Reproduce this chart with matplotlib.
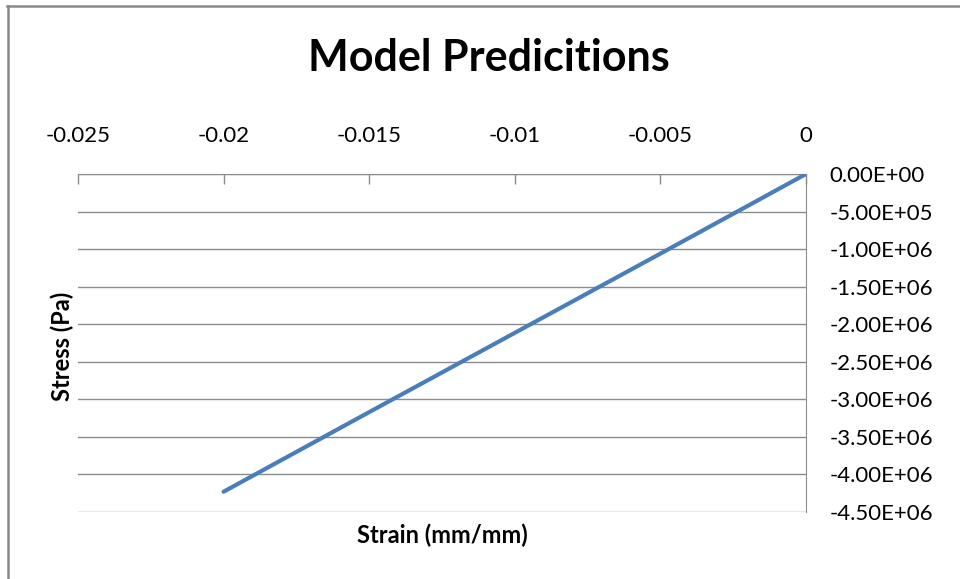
import numpy as np
import matplotlib.pyplot as plt
from matplotlib.lines import Line2D

# data
strain = [-0.02, -0.015, -0.01, -0.005, 0.0]
stress = [-4.23e6, -3.17e6, -2.115e6, -1.06e6, 0.0]

x_ticks = [-0.025, -0.02, -0.015, -0.01, -0.005, 0.0]
x_tick_labels = ["-0.025", "-0.02", "-0.015", "-0.01", "-0.005", "0"]
y_ticks = [0, -5e5, -1e6, -1.5e6, -2e6, -2.5e6, -3e6, -3.5e6, -4e6, -4.5e6]
y_tick_labels = ["0.00E+00", "-5.00E+05", "-1.00E+06", "-1.50E+06", "-2.00E+06",
                 "-2.50E+06", "-3.00E+06", "-3.50E+06", "-4.00E+06", "-4.50E+06"]

plt.rcParams['font.family'] = ['Lato', 'DejaVu Sans']

fig = plt.figure(figsize=(9.6, 5.79), dpi=100)
ax = fig.add_axes([78 / 960, 1 - 512 / 579, (806 - 78) / 960, (512 - 174) / 579])

grid_col = "#8c8c8c"
ax.plot(strain, stress, color="#4a7ebb", linewidth=3.0, solid_capstyle="round", zorder=3)

ax.set_xlim(-0.025, 0)
ax.set_ylim(-4.5e6, 0)

ax.set_xticks(x_ticks)
ax.set_xticklabels(x_tick_labels)
ax.set_yticks(y_ticks)
ax.set_yticklabels(y_tick_labels)

ax.xaxis.tick_top()
ax.yaxis.tick_right()
ax.tick_params(axis="x", direction="in", length=7, width=1, color=grid_col,
               labelsize=16, pad=20, labelcolor="black")
ax.tick_params(axis="y", length=0, labelsize=16, pad=17, labelcolor="black")
for lbl in ax.get_yticklabels():
    lbl.set_horizontalalignment("left")

ax.grid(axis="y", color=grid_col, linewidth=1)
for side in ["left", "bottom"]:
    ax.spines[side].set_visible(False)
ax.spines["top"].set_color(grid_col)
ax.spines["right"].set_color(grid_col)

fig.text(489 / 960, 1 - 58 / 579, "Model Predicitions", ha="center", va="center",
         fontsize=31, fontweight="bold")
fig.text(442 / 960, 1 - 535 / 579, "Strain (mm/mm)", ha="center", va="center",
         fontsize=17, fontweight="bold")
fig.text(62 / 960, 1 - 346 / 579, "Stress (Pa)", ha="center", va="center",
         fontsize=17, fontweight="bold", rotation=90)

# outer chart border (top and left edges visible)
fig.add_artist(Line2D([7 / 960, 1], [1 - 6 / 579, 1 - 6 / 579], color="#8a8a8a",
                      linewidth=1.8, transform=fig.transFigure))
fig.add_artist(Line2D([8 / 960, 8 / 960], [0, 1 - 6 / 579], color="#8a8a8a",
                      linewidth=1.8, transform=fig.transFigure))

fig.savefig("out.png", dpi=100)
